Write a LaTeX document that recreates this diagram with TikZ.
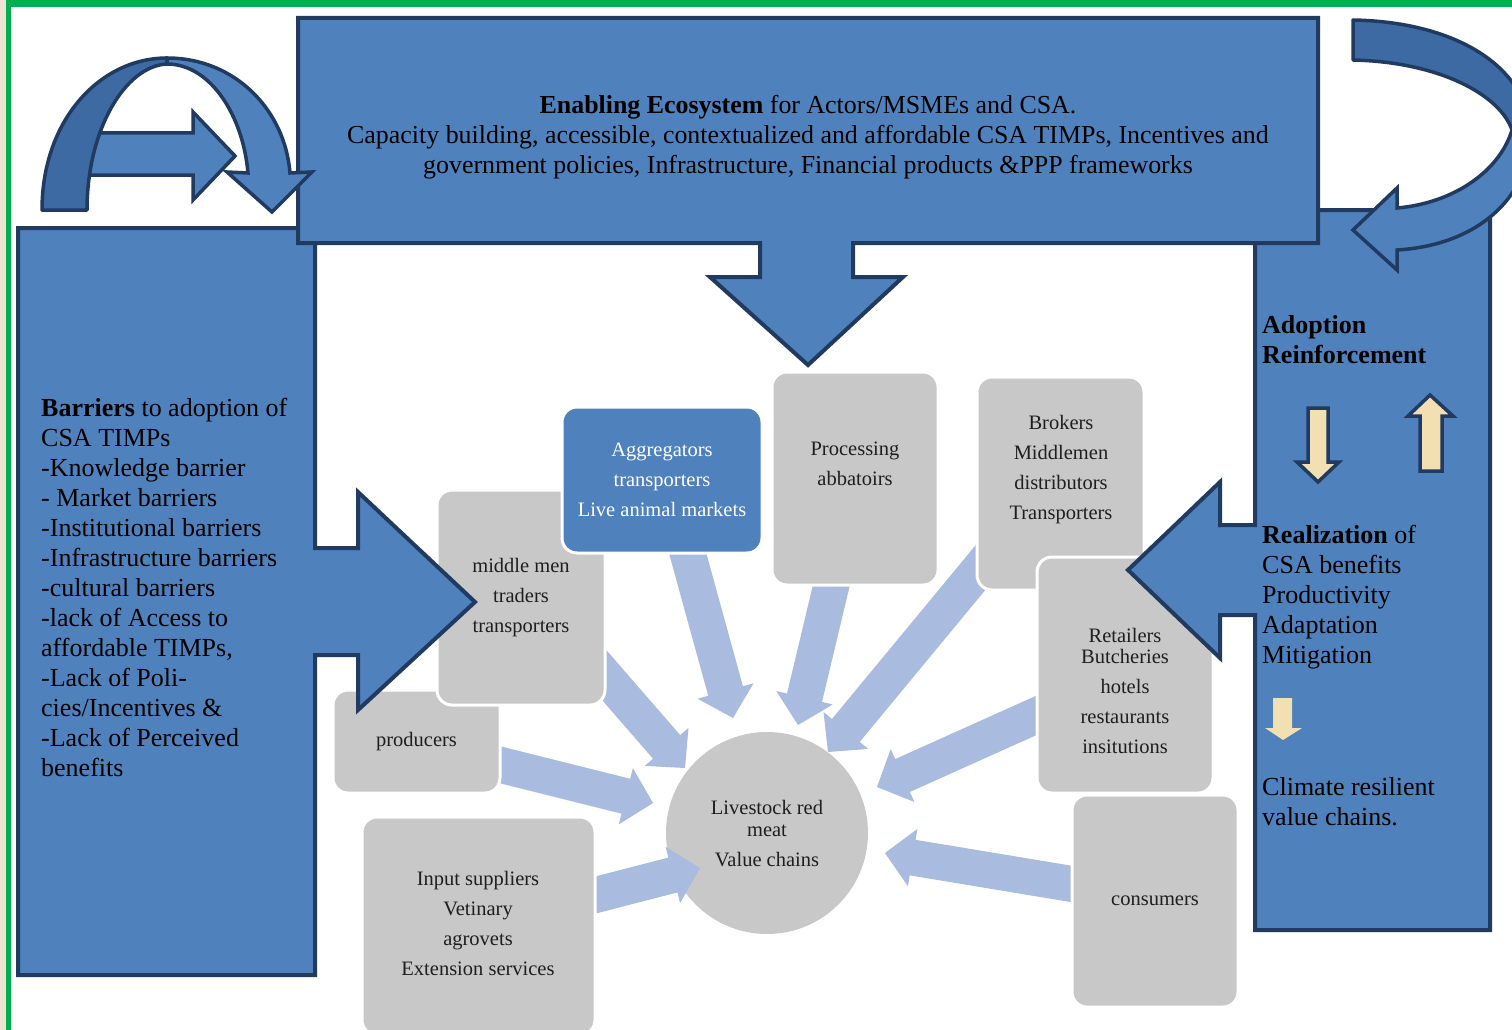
\documentclass[tikz,border=0pt]{standalone}
\usepackage{fontspec}
\setmainfont{Liberation Serif}
\usetikzlibrary{calc}
\definecolor{pblue}{RGB}{79,129,189}
\definecolor{pnavy}{RGB}{33,58,96}
\definecolor{pback}{RGB}{62,106,164}
\definecolor{pgray}{RGB}{200,200,200}
\definecolor{plight}{RGB}{169,187,223}
\definecolor{pgreen}{RGB}{0,176,80}
\definecolor{pbeige}{RGB}{238,228,210}
\definecolor{pcream}{RGB}{243,224,178}
\definecolor{pdark}{RGB}{30,30,30}
\tikzset{
 panel/.style={fill=pblue, draw=pnavy, line width=4pt, line join=miter},
 backband/.style={fill=pback, draw=pnavy, line width=3.5pt, line join=round},
 frontband/.style={fill=pblue, draw=pnavy, line width=3.5pt, line join=miter},
 gbox/.style={rectangle, fill=pgray, draw=white, line width=3pt, rounded corners=15pt, inner sep=0pt},
 bbox/.style={gbox, fill=pblue},
 gtext/.style={align=center, text=pdark, font=\fontsize{20.5}{30}\selectfont, inner sep=0pt},
 ptext/.style={align=left, text=black, font=\fontsize{26}{30}\selectfont, inner sep=0pt, anchor=north west},
 lightarrow/.style={fill=plight},
 creamarrow/.style={fill=pcream, draw=pnavy, line width=3.5pt, line join=miter},
}
\newcommand\blockarrow[3]{%
 \coordinate (#3n) at ($(#2)!28pt!(#1)$);
 \fill[lightarrow] ($(#1)!18pt!90:(#2)$) -- ($(#3n)!18pt!90:(#2)$) -- ($(#3n)!29pt!90:(#2)$) -- (#2) -- ($(#3n)!29pt!-90:(#2)$) -- ($(#3n)!18pt!-90:(#2)$) -- ($(#1)!18pt!-90:(#2)$) -- cycle;}
\begin{document}
\begin{tikzpicture}[x=1pt,y=-1pt]
\useasboundingbox (0,0) rectangle (1512,1030);
\fill[white] (0,0) rectangle (1512,1030);
\fill[pbeige] (0,0) rectangle (6,1030);
\fill[pgreen] (6,0) rectangle (11,1030);
\fill[pgreen] (6,0) rectangle (1512,7);

% central circle
\node[circle, fill=pgray, minimum size=202pt, inner sep=0pt] (vc) at (767,833) {};
\node[gtext] (vct) at (767,834) {Livestock red\\[-8pt]meat\\Value chains};

% light block arrows
\coordinate (a1s) at (684,540); \coordinate (a1t) at (733,718);
\coordinate (a2s) at (835,570); \coordinate (a2t) at (798,725);
\coordinate (a3s) at (995,550); \coordinate (a3t) at (828,752);
\coordinate (a4s) at (1055,707); \coordinate (a4t) at (877,787);
\coordinate (a5s) at (1090,887); \coordinate (a5t) at (885,853);
\coordinate (a6s) at (580,899); \coordinate (a6t) at (700,868);
\coordinate (a7s) at (485,761); \coordinate (a7t) at (653,803);
\coordinate (a8s) at (585,653); \coordinate (a8t) at (685,768);
\blockarrow{a1s}{a1t}{a1}
\blockarrow{a2s}{a2t}{a2}
\blockarrow{a3s}{a3t}{a3}
\blockarrow{a4s}{a4t}{a4}
\blockarrow{a5s}{a5t}{a5}
\blockarrow{a6s}{a6t}{a6}
\blockarrow{a7s}{a7t}{a7}
\blockarrow{a8s}{a8t}{a8}

% gray boxes
\node[gbox, gtext, minimum width=167pt, minimum height=103pt] (prod) at (416.5,741.5) {producers};
\node[gbox, gtext, minimum width=168pt, minimum height=215pt] (mid) at (521,597.5) {middle men\\traders\\transporters};
\node[bbox, gtext, text=white, minimum width=200pt, minimum height=146pt] (agg) at (662,480) {Aggregators\\transporters\\Live animal markets};
\node[gbox, minimum width=166pt, minimum height=213pt] (proc) at (855,478.5) {};
\node[gtext] (proct) at (855,464) {Processing\\abbatoirs};
\node[gbox, minimum width=167pt, minimum height=213pt] (brok) at (1060.5,483.5) {};
\node[gtext] (brokt) at (1061,470) {Brokers\\Middlemen\\distributors\\Transporters};
\node[gbox, minimum width=176pt, minimum height=236pt] (ret) at (1125,675) {};
\node[gtext] (rett) at (1125,691) {Retailers\\[-9pt]Butcheries\\hotels\\restaurants\\insitutions};
\node[gbox, minimum width=233pt, minimum height=218pt] (inp) at (478.5,926) {};
\node[gtext] (inpt) at (478,923) {Input suppliers\\Vetinary\\agrovets\\Extension services};
\node[gbox, gtext, minimum width=166pt, minimum height=212pt] (cons) at (1155,901) {consumers};

% left panel
\draw[panel] (18,228) -- (315,228) -- (315,548) -- (358,548) -- (358,492) -- (475,602) -- (358,710) -- (358,655) -- (315,655) -- (315,975) -- (18,975) -- cycle;
% right panel
\draw[panel] (1255,210) -- (1490,210) -- (1490,930) -- (1255,930) -- (1255,615) -- (1220,615) -- (1220,658) -- (1128,570) -- (1220,482) -- (1220,525) -- (1255,525) -- cycle;
% top box with down arrow
\draw[panel] (298,18) -- (1318,18) -- (1318,243) -- (853,243) -- (853,277) -- (903,277) -- (808,365) -- (710,277) -- (760,277) -- (760,243) -- (298,243) -- cycle;

% top-left arch and arrow
\draw[frontband] (80,133) -- (193,133) -- (193,112) -- (235,156) -- (193,200) -- (193,175) -- (80,175) -- cycle;
\draw[backband] (42,210) .. controls (42,120) and (100,58) .. (167,58) -- (167,64) .. controls (125,66) and (87,130) .. (87,210) -- cycle;
\draw[frontband] (167,58) .. controls (235,58) and (285,110) .. (290,173) -- (312,172) -- (272,212) -- (227,172) -- (248,173) .. controls (243,115) and (210,64) .. (167,64) -- cycle;

% top-right curved arrow
\draw[backband] (1353,20) .. controls (1460,22) and (1530,70) .. (1530,135) -- (1512,130) .. controls (1500,95) and (1440,62) .. (1353,60) -- cycle;
\draw[frontband] (1512,130) .. controls (1500,170) and (1455,203) .. (1397,208) -- (1397,188) -- (1353,230) -- (1397,270) -- (1397,250) .. controls (1480,245) and (1530,195) .. (1530,135) -- cycle;

% cream arrows
\draw[creamarrow] (1308,408) -- (1328,408) -- (1328,462) -- (1339,462) -- (1318,482) -- (1297,462) -- (1308,462) -- cycle;
\draw[creamarrow] (1420,471) -- (1442,471) -- (1442,416) -- (1453,416) -- (1430,395) -- (1408,416) -- (1420,416) -- cycle;
\fill[pcream] (1273,698) -- (1292,698) -- (1292,728) -- (1302,728) -- (1283,740) -- (1265,728) -- (1273,728) -- cycle;

% texts
\node[align=center, font=\fontsize{25.9}{30}\selectfont, inner sep=0pt] (topt) at (808,137) {\textbf{Enabling Ecosystem} for Actors/MSMEs and CSA.\\Capacity building, accessible, contextualized and affordable CSA TIMPs, Incentives and\\government policies, Infrastructure, Financial products \&PPP frameworks};
\node[ptext] (leftt) at (41,398) {\textbf{Barriers} to adoption of\\CSA TIMPs\\-Knowledge barrier\\- Market barriers\\-Institutional barriers\\-Infrastructure barriers\\-cultural barriers\\-lack of Access to\\affordable TIMPs,\\-Lack of Poli-\\cies/Incentives \&\\-Lack of Perceived\\benefits};
\node[ptext] (adopt) at (1262,315) {\textbf{Adoption}\\\textbf{Reinforcement}};
\node[ptext] (realt) at (1262,525) {\textbf{Realization} of\\CSA benefits\\Productivity\\Adaptation\\Mitigation};
\node[ptext] (climt) at (1262,777) {Climate resilient\\value chains.};
\end{tikzpicture}
\end{document}
